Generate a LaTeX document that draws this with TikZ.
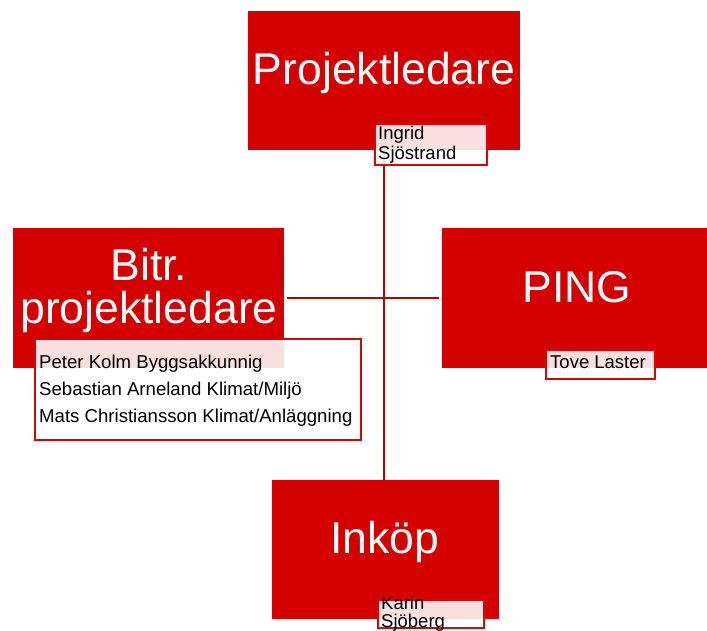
\documentclass[tikz,border=0pt]{standalone}
\usepackage{fontspec}
\setmainfont{Liberation Sans}
\definecolor{boxred}{RGB}{212,0,0}
\definecolor{linered}{RGB}{185,0,0}
\definecolor{tagred}{RGB}{215,5,5}
\begin{document}
\begin{tikzpicture}[x=1pt,y=-1pt,
  rolebox/.style={fill=boxred, draw=boxred, line width=0.5pt, inner sep=0pt, anchor=north west},
  title/.style={font=\fontsize{44.5}{43}\selectfont, text=white, inner sep=0pt, align=center},
  tagbox/.style={draw=tagred, line width=1.8pt, fill=white, fill opacity=0.88, inner sep=0pt, anchor=north west},
  tagtext/.style={text=black, inner sep=0pt, align=left},
  conn/.style={draw=linered, line width=2pt}]
\useasboundingbox (0,0) rectangle (707,631);
\clip (0,0) rectangle (707,631);
% role boxes
\node[rolebox, minimum width=271pt, minimum height=138pt] (pl) at (248,11) {};
\node[rolebox, minimum width=270pt, minimum height=139pt] (bp) at (13,228) {};
\node[rolebox, minimum width=270pt, minimum height=139pt] (ping) at (442,228) {};
\node[rolebox, minimum width=226pt, minimum height=138pt] (ink) at (272,480) {};
% connectors
\draw[conn] (pl.south) -- (pl.south |- ink.north);
\draw[conn, shorten <=3pt, shorten >=3pt] (bp.east) -- (ping.west);
% redraw boxes over connector ends
\fill[boxred] (pl.north west) rectangle (pl.south east);
\fill[boxred] (ink.north west) rectangle (ink.south east);
% titles
\node[title, anchor=base] (plt) at (384,85) {Projektledare};
\node[title, anchor=base] (bpt) at (149,323) {Bitr.\\projektledare};
\node[title, anchor=base] (pingt) at (577,302) {PING};
\node[title, anchor=base] (inkt) at (385,553) {Inköp};
% name tags
\node[tagbox, minimum width=112pt, minimum height=41pt] (ing) at (374,123) {};
\node[tagtext, font=\fontsize{18.5}{20}\selectfont, anchor=west, xshift=4pt, yshift=-0.5pt] (ingt) at (ing.west) {Ingrid\\Sjöstrand};
\node[tagbox, minimum width=326pt, minimum height=101pt] (team) at (34,338) {};
\node[tagtext, font=\fontsize{18.6}{27}\selectfont, anchor=west, xshift=5pt, yshift=-1.5pt] (teamt) at (team.west) {Peter Kolm Byggsakkunnig\\Sebastian Arneland Klimat/Miljö\\Mats Christiansson Klimat/Anläggning};
\node[tagbox, minimum width=109pt, minimum height=29pt] (tove) at (545,349) {};
\node[tagtext, font=\fontsize{18.5}{20}\selectfont, anchor=base west] (tovet) at (550,368) {Tove Laster};
\node[tagbox, minimum width=106pt, minimum height=28pt] (kar) at (377,599) {};
\node[tagtext, font=\fontsize{18.5}{18}\selectfont, anchor=west, xshift=4pt] (kart) at (kar.west) {Karin\\Sjöberg};
\end{tikzpicture}
\end{document}
